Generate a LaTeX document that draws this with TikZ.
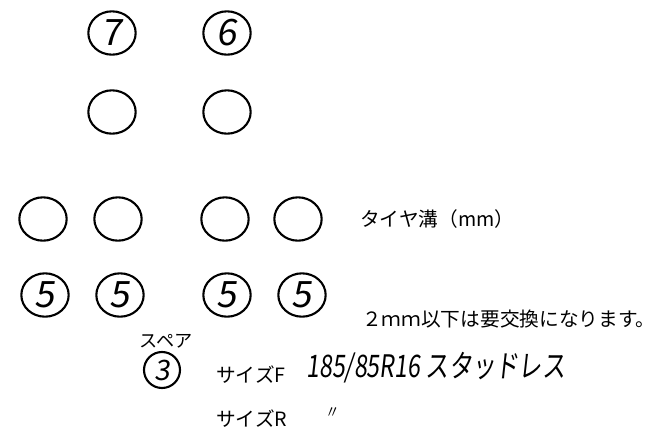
\documentclass[tikz,border=0pt]{standalone}
\usepackage{fontspec}
\setmainfont{Noto Sans CJK JP}
\newfontfamily\handfont[FakeSlant=0.15]{Noto Sans CJK JP}
\usetikzlibrary{shapes.geometric,positioning}

\begin{document}
\begin{tikzpicture}[
  x=0.03cm,y=-0.03cm,
  tyre/.style={ellipse,draw,line width=1.8pt,inner sep=0pt,
               minimum width=1.42cm,minimum height=1.3cm,
               font=\handfont\fontsize{31}{31}\selectfont},
  sparetyre/.style={tyre,minimum width=1.08cm,minimum height=1.08cm,
               font=\handfont\fontsize{24}{24}\selectfont},
  note/.style={anchor=west,inner sep=0pt,font=\fontsize{16.8}{19}\selectfont},
  hand/.style={anchor=west,inner sep=0pt,xscale=0.75,
               font=\handfont\fontsize{26.5}{26.5}\selectfont}
]
  \useasboundingbox (0,0) rectangle (663,438);

  % Front tyres (measured)
  \node[tyre] (f1) at (112,33) {7};
  \node[tyre] (f2) at (227,33) {6};

  % Front tyres (blank)
  \node[tyre] (e1) at (112,112) {};
  \node[tyre] (e2) at (227,112) {};

  % Rear tyres (blank)
  \node[tyre] (r1) at (43,219) {};
  \node[tyre] (r2) at (118,219) {};
  \node[tyre] (r3) at (225,219) {};
  \node[tyre] (r4) at (298,219) {};

  % Rear tyres (measured)
  \node[tyre] (d1) at (45,295) {5};
  \node[tyre] (d2) at (120,295) {5};
  \node[tyre] (d3) at (227,295) {5};
  \node[tyre] (d4) at (302,295) {5};

  % Spare
  \node[sparetyre] (spare) at (162,370) {3};
  \node[note,anchor=south,font=\fontsize{15.5}{17}\selectfont]
    (sparelbl) at (166,348) {スペア};

  % Notes
  \node[note] (groove) at (360,219) {タイヤ溝（mm）};
  \node[note] (limit) at (362,319) {２ｍｍ以下は要交換になります。};

  % Sizes
  \node[note] (sizef) at (216,375) {サイズF};
  \node[note] (sizer) at (216,419) {サイズR};
  \node[hand] (tyresize) at (306,368) {185/85R16 スタッドレス};
  \node[hand,anchor=center,font=\handfont\fontsize{15}{15}\selectfont]
    (ditto) at (332,413) {〃};
\end{tikzpicture}
\end{document}
